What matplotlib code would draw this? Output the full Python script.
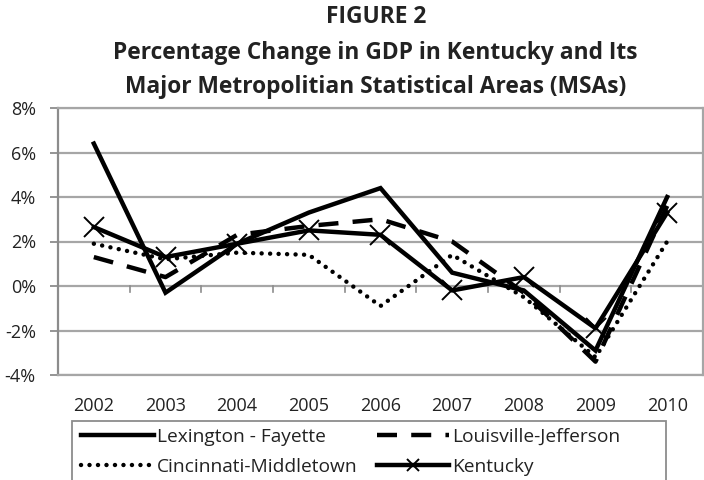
import matplotlib
matplotlib.use("Agg")
import matplotlib.pyplot as plt
from matplotlib.ticker import FuncFormatter, FixedLocator
from matplotlib.patches import Rectangle

plt.rcParams['font.family'] = ['Open Sans', 'DejaVu Sans']

years = ["2002", "2003", "2004", "2005", "2006", "2007", "2008", "2009", "2010"]
lexington = [6.4, -0.3, 1.9, 3.3, 4.4, 0.6, -0.2, -2.9, 4.0]
louisville = [1.3, 0.4, 2.3, 2.7, 3.0, 2.0, -0.3, -3.4, 3.6]
cincinnati = [1.9, 1.2, 1.5, 1.4, -0.9, 1.4, -0.5, -3.2, 2.0]
kentucky = [2.65, 1.3, 1.9, 2.5, 2.3, -0.2, 0.4, -1.9, 3.3]
yticks = [-4, -2, 0, 2, 4, 6, 8]

W, H = 704, 480
fig = plt.figure(figsize=(W/100, H/100), dpi=100)
ax = fig.add_axes([58/W, 1-375/H, (703-58)/W, (375-108)/H])

x = list(range(len(years)))
lw = 3.2
ax.plot(x, lexington, color='black', lw=lw, solid_joinstyle='miter', label='Lexington - Fayette', zorder=4)
ax.plot(x, louisville, color='black', lw=lw, linestyle=(0, (4.5, 3.2)), label='Louisville-Jefferson', zorder=3)
ax.plot(x, cincinnati, color='black', lw=lw, linestyle=(0, (0.01, 1.9)), dash_capstyle='round', label='Cincinnati-Middletown', zorder=3)
ax.plot(x, kentucky, color='black', lw=lw, marker='x', markersize=14, markeredgewidth=1.4, label='Kentucky', zorder=5)

ax.set_xlim(-0.5, len(years) - 0.5)
ax.set_ylim(-4, 8)
ax.yaxis.set_major_locator(FixedLocator(yticks))
ax.yaxis.set_major_formatter(FuncFormatter(lambda v, p: f"{v:.0f}%"))
ax.set_xticks(x)
ax.set_xticklabels(years)
ax.grid(axis='y', color='#a6a6a6', lw=1.6, zorder=0)
ax.set_axisbelow(True)
for s in ax.spines.values():
    s.set_color('#a6a6a6')
    s.set_linewidth(1.6)
ax.spines['left'].set_color('#8c8c8c')
ax.tick_params(axis='y', length=6, width=1.3, color='#8c8c8c', labelsize=13, labelcolor='#222222', pad=10)
ax.tick_params(axis='x', length=0, labelsize=13, labelcolor='#222222', pad=16)

# category tick marks on the zero line
for i in range(1, len(years)):
    ax.plot([i - 0.5, i - 0.5], [0, -0.25], color='#8c8c8c', lw=1.2, zorder=1)

tkw = dict(ha='center', va='center', fontsize=16.4, fontweight='bold', color='#222222')
fig.text(0.535, 1-17/H, "FIGURE 2", **tkw)
fig.text(0.533, 1-53/H, "Percentage Change in GDP in Kentucky and Its", **tkw)
fig.text(0.533, 1-87/H, "Major Metropolitian Statistical Areas (MSAs)", **tkw)

# legend frame (extends below the figure edge, as in the original)
frame = Rectangle((71.5/W, -10/H), (666-71.5)/W, (H - 420.5 + 10)/H, transform=fig.transFigure,
                  fill=False, edgecolor='#8c8c8c', lw=1.3)
fig.patches.append(frame)

handles, labels = ax.get_legend_handles_labels()
order = [0, 2, 1, 3]
leg = fig.legend([handles[i] for i in order], [labels[i] for i in order],
                 loc='upper left', bbox_to_anchor=(81/W, 1-428/H), ncol=2,
                 frameon=False, fontsize=13.8, handlelength=3.8,
                 columnspacing=1.0, borderpad=0.0, borderaxespad=0.0,
                 labelspacing=0.62, handletextpad=0.15, labelcolor='#222222')
for h in leg.legend_handles:
    try:
        h.set_markersize(8)
    except Exception:
        pass

fig.savefig("out.png", dpi=100)
